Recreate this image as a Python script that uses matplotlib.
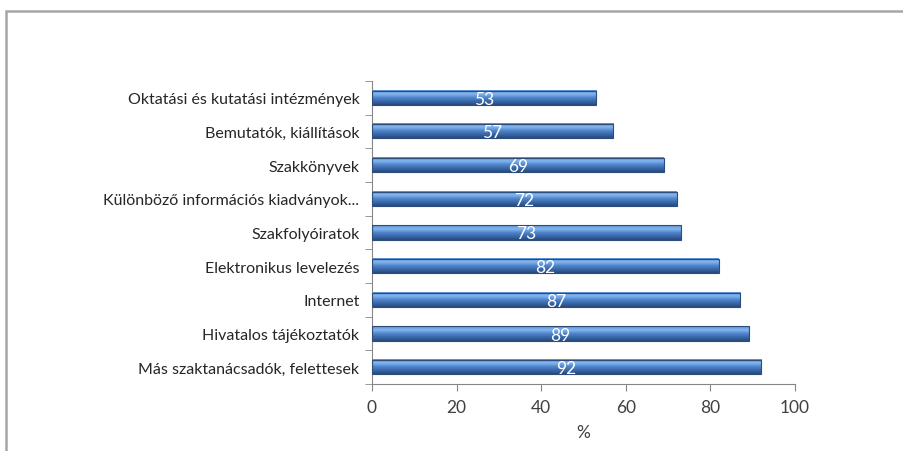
import numpy as np
import matplotlib.pyplot as plt
from matplotlib.patches import Rectangle
from matplotlib.colors import LinearSegmentedColormap

# Survey data: sources of information (%)
categories = [
    'Más szaktanácsadók, felettesek',
    'Hivatalos tájékoztatók',
    'Internet',
    'Elektronikus levelezés',
    'Szakfolyóiratok',
    'Különböző információs kiadványok...',
    'Szakkönyvek',
    'Bemutatók, kiállítások',
    'Oktatási és kutatási intézmények',
]
values = [92, 89, 87, 82, 73, 72, 69, 57, 53]
x_ticks = [0, 20, 40, 60, 80, 100]

plt.rcParams['font.family'] = ['Lato', 'DejaVu Sans']

fig = plt.figure(figsize=(9.04, 4.52), dpi=100)
ax = fig.add_axes([0.4115, 0.148, 0.468, 0.671])

# outer frame around the chart area
fig.patches.append(Rectangle((6 / 904, -0.05), 1.0, 1 - 12 / 452 + 0.05,
                             transform=fig.transFigure, fill=False,
                             edgecolor='#a6a6a6', linewidth=1.8))

y = np.arange(len(categories))
bar_h = 0.42

# vertical gradient for the bevelled look
grad = LinearSegmentedColormap.from_list(
    'bev', ['#284a80', '#3a67a8', '#4f86cc', '#86b6ee', '#5a8fd2'])
shade = np.linspace(0, 1, 64).reshape(-1, 1)

bars = ax.barh(y, values, height=bar_h, color='none', edgecolor='#2c4d7c',
               linewidth=0.8, zorder=3)
for b, v in zip(bars, values):
    y0 = b.get_y()
    ax.imshow(shade, cmap=grad, aspect='auto', origin='lower',
              extent=[0, v, y0, y0 + bar_h], zorder=2)
    ax.text(v / 2, b.get_y() + bar_h / 2 - 0.03, str(v), ha='center',
            va='center', color='white', fontsize=12.5, zorder=4)

ax.set_xlim(0, 100)
ax.set_ylim(-0.5, len(categories) - 0.5)
ax.set_xticks(x_ticks)
ax.set_yticks(y)
ax.set_yticklabels(categories)
ax.set_yticks(np.arange(-0.5, len(categories)), minor=True)
ax.tick_params(axis='y', which='major', length=0, pad=9, labelsize=11.5,
               labelcolor='#262626')
ax.tick_params(axis='y', which='minor', length=5, color='#868686')
ax.tick_params(axis='x', length=5, color='#868686', labelsize=12.5,
               labelcolor='#404040', pad=6)
ax.set_xlabel('%', fontsize=12.5, color='#404040', labelpad=6)

for s in ['top', 'right']:
    ax.spines[s].set_visible(False)
for s in ['left', 'bottom']:
    ax.spines[s].set_color('#868686')

fig.savefig('out.png', dpi=100)
